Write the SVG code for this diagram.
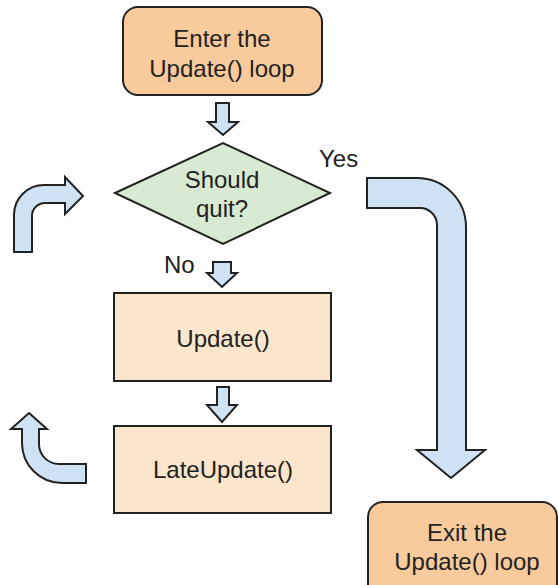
<svg xmlns="http://www.w3.org/2000/svg" width="558" height="585" viewBox="0 0 558 585">
  <style>
    .term { fill: #f9cb9c; stroke: #222; stroke-width: 2; }
    .step { fill: #fce5cd; stroke: #222; stroke-width: 2; }
    .cond { fill: #d9ead3; stroke: #222; stroke-width: 2; }
    .arrow { fill: #cfe2f3; stroke: #222; stroke-width: 2; stroke-linejoin: miter; }
    text { font-family: "Liberation Sans", Arial, sans-serif; fill: #222; text-anchor: middle; font-size: 24px; }
    .lbl { text-anchor: start; }
  </style>
  <rect width="558" height="585" fill="#ffffff"/>

  <g id="connectors">
    <!-- straight block arrows down the main column -->
    <path class="arrow" d="M216,103 H229 V122 H238 L223,135 L208,122 H216 Z"/>
    <path class="arrow" d="M213,262 H231 V273 H237 L222,287 L207,273 H213 Z"/>
    <path class="arrow" d="M217,387 H229 V405 H237 L222,422 L207,405 H217 Z"/>
    <!-- "Yes" branch to the exit -->
    <path class="arrow" d="M367,178 H417 A49,49 0 0 1 466,227 V450 H485 L451,478 L417,450 H437 V225 A17,17 0 0 0 420,208 H367 Z"/>
    <!-- loop-back arrows on the left -->
    <path class="arrow" d="M14,252 V215 A30,30 0 0 1 44,185 H65 V177 L83,196 L65,214 V203 H45 A13,13 0 0 0 32,216 V252 Z"/>
    <path class="arrow" d="M29,413 L47,429 H39 V444 A20,20 0 0 0 59,464 H86 V483 H62 A40,40 0 0 1 22,443 V429 H11 Z"/>
    <text class="lbl" x="319" y="167">Yes</text>
    <text class="lbl" x="164" y="273">No</text>
  </g>

  <g id="enter">
    <rect class="term" x="123" y="7" width="199" height="88" rx="15"/>
    <text x="222" y="47">Enter the</text>
    <text x="222" y="77">Update() loop</text>
  </g>

  <g id="should-quit">
    <polygon class="cond" points="115,193 223,143 330,193 223,244"/>
    <text x="222" y="188">Should</text>
    <text x="222" y="217">quit?</text>
  </g>

  <g id="update">
    <rect class="step" x="114" y="293" width="217" height="88"/>
    <text x="223" y="347">Update()</text>
  </g>

  <g id="late-update">
    <rect class="step" x="114" y="426" width="217" height="87"/>
    <text x="223" y="478">LateUpdate()</text>
  </g>

  <g id="exit">
    <rect class="term" x="368" y="502" width="189" height="100" rx="15"/>
    <text x="467" y="541">Exit the</text>
    <text x="467" y="570">Update() loop</text>
  </g>
</svg>
